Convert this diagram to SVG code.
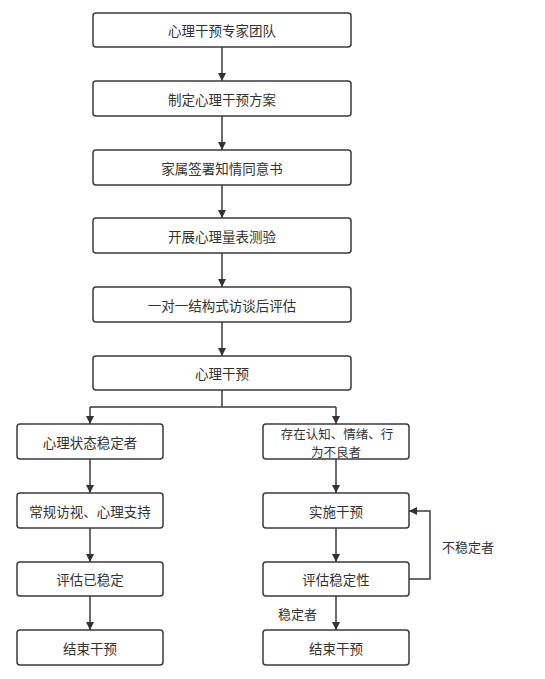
<svg xmlns="http://www.w3.org/2000/svg" width="545" height="679" viewBox="0 0 545 679">
<defs>
<marker id="ah" viewBox="0 0 10 10" refX="10" refY="5" markerWidth="8" markerHeight="8" markerUnits="userSpaceOnUse" orient="auto">
<path d="M0,0 L10,5 L0,10 z" fill="#333"/>
</marker>
<style>
.box{fill:#fff;stroke:#3a3a3a;stroke-width:1.5}
.t{font-family:"Noto Sans CJK SC","Liberation Sans",sans-serif;font-size:13.5px;fill:#333;text-anchor:middle;dominant-baseline:central}
.t2{font-size:12.5px}
.lbl{font-family:"Noto Sans CJK SC","Liberation Sans",sans-serif;font-size:13px;fill:#333;dominant-baseline:central}
.c{fill:none;stroke:#3a3a3a;stroke-width:1.5}
</style>
</defs>
<rect width="545" height="679" fill="#fff"/>
<g id="connectors">
<path class="c" d="M222,47 V81" marker-end="url(#ah)"/>
<path class="c" d="M222,116 V150" marker-end="url(#ah)"/>
<path class="c" d="M222,185 V218" marker-end="url(#ah)"/>
<path class="c" d="M222,253 V287" marker-end="url(#ah)"/>
<path class="c" d="M222,322 V356" marker-end="url(#ah)"/>
<path class="c" d="M222,390 V407 M90,407 H336"/>
<path class="c" d="M90,407 V424" marker-end="url(#ah)"/>
<path class="c" d="M336,407 V424" marker-end="url(#ah)"/>
<path class="c" d="M90,459 V493" marker-end="url(#ah)"/>
<path class="c" d="M90,528 V562" marker-end="url(#ah)"/>
<path class="c" d="M90,596 V630" marker-end="url(#ah)"/>
<path class="c" d="M336,459 V493" marker-end="url(#ah)"/>
<path class="c" d="M336,528 V562" marker-end="url(#ah)"/>
<path class="c" d="M336,596 V630" marker-end="url(#ah)"/>
<path class="c" d="M409,579 H430 V511 H409" marker-end="url(#ah)"/>
<text class="lbl" x="442" y="546">不稳定者</text>
<text class="lbl" x="278" y="613">稳定者</text>
</g>
<g id="n1"><rect class="box" x="93" y="13" width="258" height="34" rx="3"/><text class="t" x="222" y="30">心理干预专家团队</text></g>
<g id="n2"><rect class="box" x="93" y="81" width="258" height="35" rx="3"/><text class="t" x="222" y="98.5">制定心理干预方案</text></g>
<g id="n3"><rect class="box" x="93" y="150" width="258" height="35" rx="3"/><text class="t" x="222" y="167.5">家属签署知情同意书</text></g>
<g id="n4"><rect class="box" x="93" y="218" width="258" height="35" rx="3"/><text class="t" x="222" y="235.5">开展心理量表测验</text></g>
<g id="n5"><rect class="box" x="93" y="287" width="258" height="35" rx="3"/><text class="t" x="222" y="304.5">一对一结构式访谈后评估</text></g>
<g id="n6"><rect class="box" x="93" y="356" width="258" height="34" rx="3"/><text class="t" x="222" y="373">心理干预</text></g>
<g id="l1"><rect class="box" x="17" y="424" width="146" height="35" rx="3"/><text class="t" x="90" y="441.5">心理状态稳定者</text></g>
<g id="l2"><rect class="box" x="17" y="493" width="146" height="35" rx="3"/><text class="t" x="90" y="510.5">常规访视、心理支持</text></g>
<g id="l3"><rect class="box" x="17" y="562" width="146" height="34" rx="3"/><text class="t" x="90" y="579">评估已稳定</text></g>
<g id="l4"><rect class="box" x="17" y="630" width="146" height="35" rx="3"/><text class="t" x="90" y="647.5">结束干预</text></g>
<g id="r1"><rect class="box" x="263" y="424" width="146" height="35" rx="3"/><text class="t t2"><tspan x="337" y="432.5">存在认知、情绪、行</tspan><tspan x="336" y="450.8">为不良者</tspan></text></g>
<g id="r2"><rect class="box" x="263" y="493" width="146" height="35" rx="3"/><text class="t" x="336" y="510.5">实施干预</text></g>
<g id="r3"><rect class="box" x="263" y="562" width="146" height="34" rx="3"/><text class="t" x="336" y="579">评估稳定性</text></g>
<g id="r4"><rect class="box" x="263" y="630" width="146" height="35" rx="3"/><text class="t" x="336" y="647.5">结束干预</text></g>
</svg>
